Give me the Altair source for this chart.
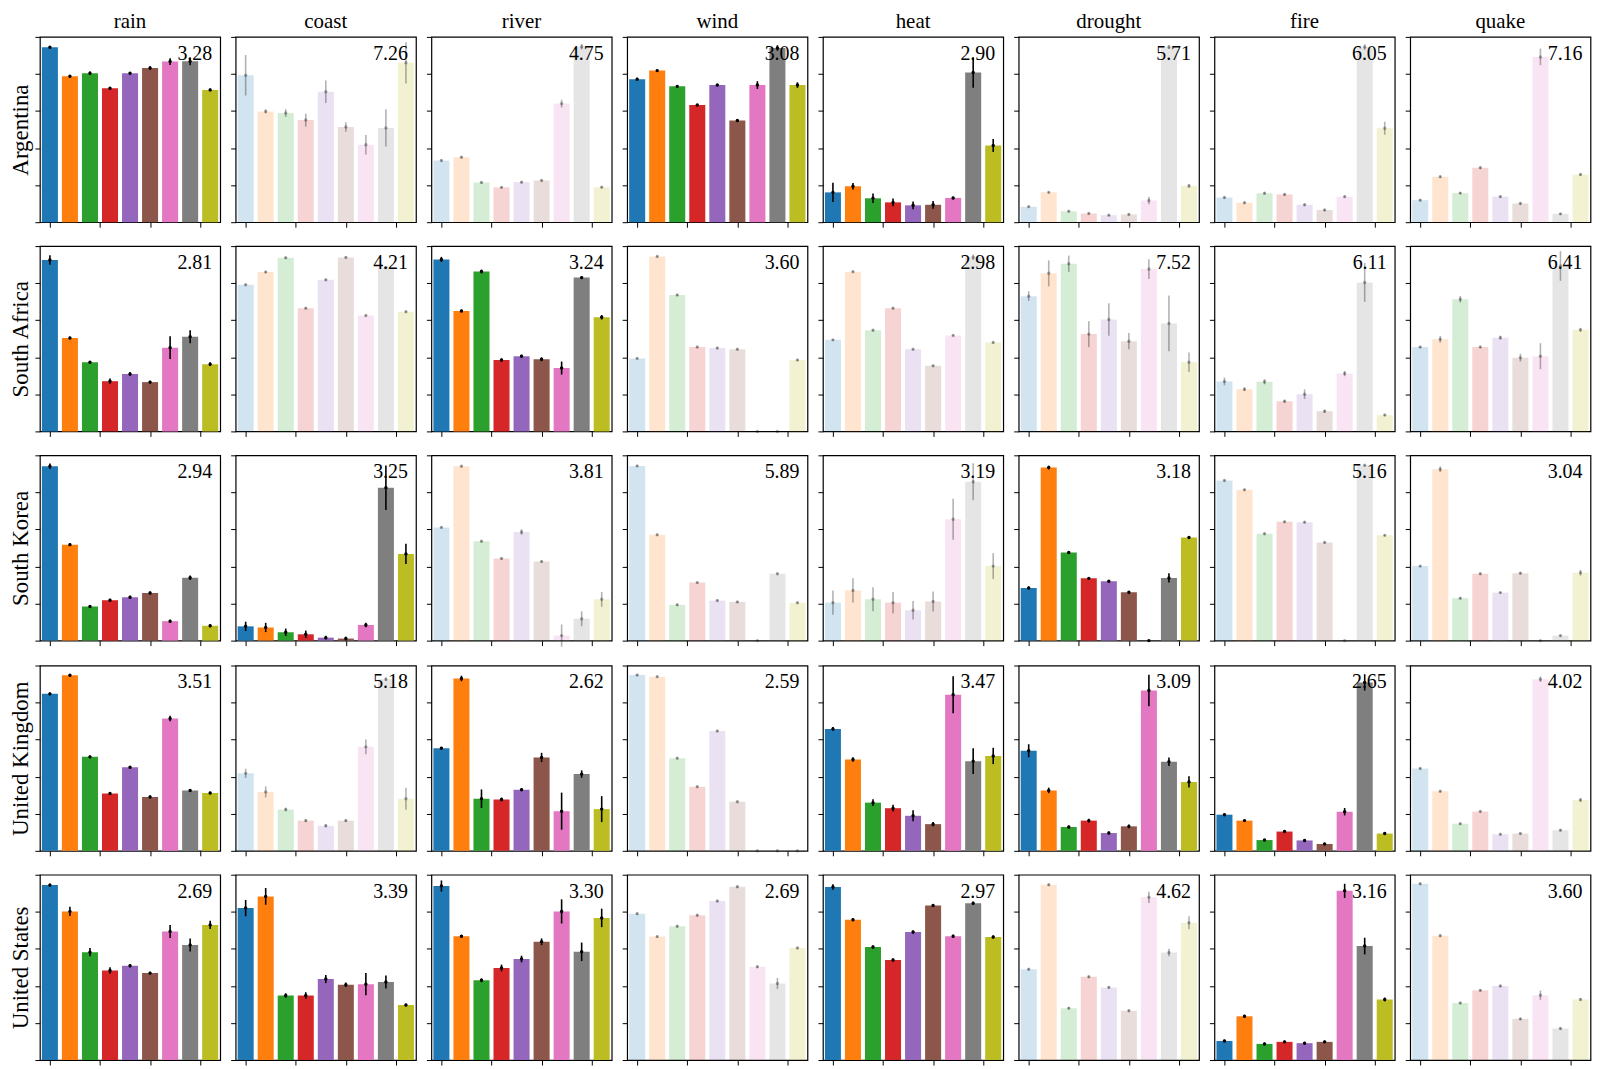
import altair as alt
import pandas as pd

COUNTRIES = ["Argentina", "South Africa", "South Korea", "United Kingdom", "United States"]
HAZARDS = ["rain", "coast", "river", "wind", "heat", "drought", "fire", "quake"]
PALETTE = ["#1f77b4", "#ff7f0e", "#2ca02c", "#d62728", "#9467bd",
           "#8c564b", "#e377c2", "#7f7f7f", "#bcbd22"]

# bar heights (percent of axis height) per hazard, 9 groups each
ar_mean = [
    [94.4, 78.8, 80.4, 72.3, 80.4, 83.2, 86.7, 86.8, 71.4],
    [79.3, 59.8, 58.9, 55.1, 70.4, 51.4, 41.8, 50.9, 86.0],
    [33.3, 35.1, 21.4, 18.8, 21.6, 22.5, 64.0, 94.7, 18.9],
    [77.2, 81.8, 73.3, 63.2, 74.0, 54.9, 74.0, 94.0, 74.0],
    [16.1, 19.4, 12.9, 10.7, 9.1, 9.4, 13.1, 80.8, 41.4],
    [8.4, 16.1, 5.9, 4.7, 3.8, 4.2, 11.7, 94.5, 19.6],
    [13.3, 10.5, 15.6, 15.0, 9.4, 6.6, 13.8, 94.5, 50.7],
    [11.9, 24.5, 15.7, 29.4, 13.8, 10.1, 89.2, 4.5, 25.7],
]
ar_err = [
    [0.7, 0.7, 0.9, 0.6, 0.6, 0.9, 1.8, 2.1, 0.7],
    [10.9, 1.1, 2.1, 3.5, 6.1, 2.6, 5.3, 10.0, 11.1],
    [0.5, 0.6, 0.5, 0.5, 0.5, 0.5, 2.1, 1.5, 0.5],
    [0.7, 0.7, 0.6, 0.6, 0.6, 0.6, 2.1, 1.5, 1.5],
    [5.2, 1.7, 2.6, 2.1, 2.1, 2.1, 0.7, 8.2, 3.5],
    [0.5, 0.5, 0.5, 0.5, 0.5, 0.5, 2.0, 1.0, 1.0],
    [0.6, 0.6, 0.6, 0.6, 0.6, 0.6, 0.6, 1.5, 3.5],
    [0.6, 0.6, 0.6, 0.6, 0.6, 0.6, 4.5, 0.5, 0.6],
]
sa_mean = [
    [92.5, 50.4, 37.3, 27.1, 31.0, 26.6, 45.2, 51.1, 36.3],
    [79.2, 86.0, 93.7, 66.5, 81.8, 93.9, 62.5, 88.4, 64.6],
    [92.8, 65.0, 86.3, 38.5, 40.6, 38.9, 34.2, 83.0, 61.6],
    [39.4, 94.4, 73.6, 45.5, 45.0, 44.3, 0.0, 0.0, 38.5],
    [49.4, 86.2, 54.6, 66.5, 44.3, 35.4, 51.8, 94.0, 48.0],
    [73.0, 85.3, 90.5, 52.5, 60.4, 48.7, 87.6, 58.3, 37.3],
    [27.0, 22.8, 26.8, 16.3, 20.1, 10.9, 31.2, 80.4, 8.8],
    [45.5, 49.7, 71.3, 45.5, 50.6, 39.8, 40.6, 89.3, 54.8],
]
sa_err = [
    [2.6, 0.7, 0.7, 1.4, 0.9, 0.7, 6.1, 3.5, 1.0],
    [0.5, 0.5, 0.5, 0.5, 0.5, 0.5, 0.5, 0.5, 0.5],
    [1.4, 0.7, 1.0, 0.8, 0.8, 1.0, 3.5, 0.8, 1.2],
    [0.5, 0.5, 0.5, 0.5, 0.5, 0.5, 0.0, 0.0, 0.5],
    [0.5, 0.5, 0.5, 0.5, 0.5, 0.5, 0.5, 1.5, 0.5],
    [2.6, 7.0, 4.4, 7.0, 8.8, 4.4, 5.3, 15.0, 5.3],
    [2.1, 1.0, 1.4, 0.8, 2.6, 0.8, 1.4, 10.5, 0.5],
    [0.5, 1.8, 1.8, 0.5, 1.1, 2.1, 7.0, 8.0, 1.1],
]
sk_mean = [
    [94.1, 51.8, 18.4, 21.8, 23.4, 25.7, 10.5, 33.9, 8.0],
    [7.7, 7.1, 4.5, 3.4, 1.6, 1.1, 8.4, 82.5, 46.8],
    [61.1, 94.1, 53.6, 44.3, 58.6, 42.7, 2.7, 11.8, 22.3],
    [94.3, 57.1, 19.3, 31.3, 21.6, 20.9, 0.0, 36.1, 20.4],
    [20.5, 27.1, 22.3, 20.5, 16.4, 21.1, 65.5, 85.7, 40.2],
    [28.4, 93.4, 47.5, 33.6, 32.0, 26.1, 0.0, 33.8, 55.7],
    [86.4, 81.4, 57.7, 64.1, 63.9, 53.0, 0.0, 94.6, 56.8],
    [40.2, 92.5, 22.9, 36.1, 25.9, 36.4, 0.0, 2.7, 36.6],
]
sk_err = [
    [1.5, 0.8, 0.8, 0.8, 0.8, 0.8, 0.8, 1.2, 0.8],
    [2.5, 2.5, 2.0, 2.0, 1.0, 1.0, 1.2, 12.0, 5.5],
    [0.5, 0.5, 0.5, 0.5, 1.5, 0.5, 6.0, 4.0, 4.0],
    [0.5, 0.5, 0.5, 0.5, 0.5, 0.5, 0.0, 0.5, 0.5],
    [6.5, 6.5, 6.5, 5.8, 5.0, 5.4, 11.0, 10.0, 7.0],
    [0.7, 1.0, 0.7, 0.7, 0.7, 0.7, 0.0, 2.5, 0.7],
    [0.5, 0.5, 0.5, 0.5, 0.5, 0.5, 0.0, 0.5, 0.5],
    [0.5, 1.5, 0.5, 0.5, 0.5, 0.5, 0.0, 0.5, 1.5],
]
uk_mean = [
    [84.7, 94.7, 50.7, 30.9, 45.1, 29.1, 71.4, 32.5, 31.2],
    [41.8, 31.8, 22.3, 16.3, 13.5, 16.3, 56.1, 92.6, 28.1],
    [55.4, 93.0, 28.1, 27.7, 33.0, 50.4, 21.4, 41.4, 22.5],
    [94.9, 94.0, 50.0, 34.6, 64.7, 26.5, 0.0, 0.0, 0.0],
    [65.8, 49.3, 26.0, 23.0, 18.9, 14.4, 84.2, 48.4, 51.2],
    [54.0, 32.6, 12.8, 16.3, 9.6, 13.2, 86.5, 48.1, 37.2],
    [19.5, 16.3, 5.8, 10.4, 5.6, 3.7, 21.1, 90.9, 9.3],
    [44.4, 32.1, 14.6, 21.2, 8.9, 9.3, 92.6, 11.1, 27.4],
]
uk_err = [
    [0.7, 0.7, 0.7, 0.7, 0.7, 0.7, 1.5, 0.7, 0.7],
    [2.5, 3.0, 1.0, 0.8, 0.8, 0.8, 4.0, 1.0, 6.0],
    [0.7, 1.5, 5.0, 1.0, 0.7, 2.5, 10.0, 2.0, 7.0],
    [0.5, 0.5, 0.5, 0.5, 0.5, 0.5, 0.0, 0.0, 0.0],
    [1.0, 1.2, 1.8, 1.8, 3.0, 1.2, 10.0, 7.0, 4.4],
    [3.5, 1.5, 0.8, 1.0, 0.8, 1.0, 8.5, 2.3, 3.0],
    [0.6, 0.6, 0.6, 0.6, 0.6, 0.6, 2.0, 4.4, 0.6],
    [0.5, 0.5, 0.5, 0.5, 0.5, 0.5, 1.5, 0.5, 1.0],
]
us_mean = [
    [94.4, 80.2, 58.2, 48.3, 50.9, 46.9, 69.4, 62.1, 72.9],
    [82.0, 88.3, 34.8, 34.8, 43.7, 40.6, 40.9, 42.1, 29.7],
    [93.9, 66.8, 43.0, 49.7, 54.5, 63.8, 80.2, 58.4, 76.7],
    [79.0, 66.6, 72.2, 78.1, 85.8, 93.5, 50.3, 41.3, 60.5],
    [93.4, 75.7, 61.0, 54.0, 69.1, 83.4, 66.8, 84.6, 66.4],
    [49.0, 94.6, 28.0, 44.9, 39.2, 26.6, 87.8, 58.0, 74.1],
    [10.3, 23.6, 8.7, 9.8, 9.1, 9.8, 91.3, 61.5, 32.7],
    [95.1, 67.1, 30.8, 37.6, 40.0, 22.2, 35.0, 17.0, 32.7],
]
us_err = [
    [0.8, 2.5, 2.2, 1.8, 0.8, 0.8, 3.5, 3.5, 2.2],
    [4.4, 4.5, 1.2, 1.8, 2.2, 1.2, 6.0, 3.5, 0.7],
    [3.0, 0.7, 1.0, 1.8, 1.8, 1.8, 6.5, 5.0, 5.0],
    [0.6, 0.6, 0.6, 0.6, 0.6, 0.6, 0.6, 3.0, 0.6],
    [1.5, 0.8, 0.8, 0.8, 0.8, 0.8, 0.8, 0.8, 0.8],
    [0.6, 0.6, 0.6, 0.6, 0.6, 0.6, 3.0, 2.0, 3.5],
    [0.7, 0.8, 0.7, 0.7, 0.7, 0.7, 3.8, 4.5, 1.0],
    [0.6, 0.6, 0.6, 0.6, 0.6, 0.6, 2.5, 0.6, 0.6],
]

# number shown in the top-right corner of each panel
ar_label = ["3.28", "7.26", "4.75", "3.08", "2.90", "5.71", "6.05", "7.16"]
sa_label = ["2.81", "4.21", "3.24", "3.60", "2.98", "7.52", "6.11", "6.41"]
sk_label = ["2.94", "3.25", "3.81", "5.89", "3.19", "3.18", "5.16", "3.04"]
uk_label = ["3.51", "5.18", "2.62", "2.59", "3.47", "3.09", "2.65", "4.02"]
us_label = ["2.69", "3.39", "3.30", "2.69", "2.97", "4.62", "3.16", "3.60"]

# 1 = highlighted panel, 0 = faded panel
ar_hi = [1, 0, 0, 1, 1, 0, 0, 0]
sa_hi = [1, 0, 1, 0, 0, 0, 0, 0]
sk_hi = [1, 1, 0, 0, 0, 1, 0, 0]
uk_hi = [1, 0, 1, 0, 1, 1, 1, 0]
us_hi = [1, 1, 1, 0, 1, 0, 1, 0]

MEANS = [ar_mean, sa_mean, sk_mean, uk_mean, us_mean]
ERRS = [ar_err, sa_err, sk_err, uk_err, us_err]
LABELS = [ar_label, sa_label, sk_label, uk_label, us_label]
HIGHLIGHT = [ar_hi, sa_hi, sk_hi, uk_hi, us_hi]

FONT = "Liberation Serif"
W, H = 181, 186


def panel(r, c):
    m = MEANS[r][c]
    e = ERRS[r][c]
    df = pd.DataFrame({
        "i": list(range(9)),
        "mean": m,
        "lo": [a - b for a, b in zip(m, e)],
        "hi": [a + b for a, b in zip(m, e)],
        "color": PALETTE,
    })
    full = HIGHLIGHT[r][c] == 1
    bar_op = 1.0 if full else 0.2
    err_op = 1.0 if full else 0.3

    xscale = alt.Scale(domain=[-0.5, 8.5], nice=False, zero=False)
    yscale = alt.Scale(domain=[0, 100], nice=False)
    xaxis = alt.Axis(values=[0, 2.5, 5, 7.5], labels=False, ticks=True, tickSize=5,
                     domain=False, grid=False, title=None)
    yaxis = alt.Axis(labels=False, ticks=True, tickSize=5, tickCount=7, domain=False,
                     grid=False,
                     title=COUNTRIES[r] if c == 0 else None,
                     titleFont=FONT, titleFontSize=23, titleFontWeight="normal",
                     titleColor="black", titlePadding=2)

    base = alt.Chart(df)
    bars = base.transform_calculate(
        x0="datum.i - 0.4", x1="datum.i + 0.4"
    ).mark_bar(opacity=bar_op).encode(
        x=alt.X("x0:Q", scale=xscale, axis=xaxis),
        x2="x1:Q",
        y=alt.Y("mean:Q", scale=yscale, axis=yaxis),
        y2=alt.datum(0),
        color=alt.Color("color:N", scale=None, legend=None),
    )
    rules = base.mark_rule(color="black", strokeWidth=1.6, opacity=err_op).encode(
        x=alt.X("i:Q", scale=xscale), y=alt.Y("lo:Q", scale=yscale), y2="hi:Q"
    )
    dots = base.mark_circle(color="black", size=12, opacity=err_op).encode(
        x=alt.X("i:Q", scale=xscale), y=alt.Y("mean:Q", scale=yscale)
    )
    txt = alt.Chart(pd.DataFrame({"label": [LABELS[r][c]]})).mark_text(
        align="right", baseline="middle", font=FONT, fontSize=20, color="black"
    ).encode(x=alt.value(W - 8), y=alt.value(17), text="label:N")

    layer = alt.layer(bars, rules, dots, txt).properties(width=W, height=H)
    if r == 0:
        layer = layer.properties(title=alt.TitleParams(HAZARDS[c]))
    return layer


rows = []
for r in range(len(COUNTRIES)):
    rows.append(alt.hconcat(*[panel(r, c) for c in range(len(HAZARDS))], spacing=7.5))

chart = alt.vconcat(*rows, spacing=15).properties(
    padding={"left": 0, "top": 0, "right": 0, "bottom": 0}
).configure_view(
    stroke="black", strokeWidth=1.2
).configure_axis(
    tickColor="black", tickWidth=1
).configure_title(
    font=FONT, fontSize=21, fontWeight="normal", color="black", offset=0, anchor="middle"
)

chart.save("out.html", embed_options={"renderer": "svg", "actions": False})
